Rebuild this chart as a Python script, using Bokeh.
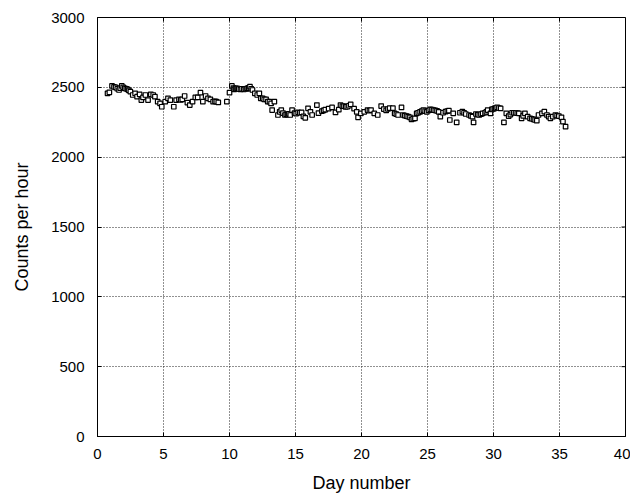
import math
from bokeh.plotting import figure
from bokeh.models import FixedTicker, Range1d
from bokeh.embed import file_html
from bokeh.resources import INLINE

days = [0.76, 0.9, 1.1, 1.25, 1.37, 1.5, 1.63, 1.72, 1.84, 1.95, 2.07, 2.18, 2.28, 2.38, 2.49,
        2.67, 2.85, 3.0, 3.19, 3.32, 3.45, 3.63, 3.83, 4.04, 4.22, 4.35, 4.56, 4.74, 4.87,
        5.13, 5.34, 5.52, 5.78, 5.96, 6.17, 6.3, 6.42, 6.6, 6.81, 6.99, 7.2, 7.41, 7.59, 7.8,
        7.98, 8.19, 8.37, 8.55, 8.76, 8.9, 9.0, 9.15,
        9.8, 10.0, 10.18, 10.3, 10.36, 10.45, 10.5, 10.57, 10.65, 10.7, 10.83, 10.95, 11.09, 11.2,
        11.28, 11.35, 11.45, 11.55, 11.65, 11.74, 11.92, 12.1, 12.26, 12.37, 12.51, 12.63, 12.77,
        12.9, 13.03, 13.15, 13.23, 13.4, 13.67, 13.8, 13.92, 14.05, 14.2, 14.3, 14.4, 14.5, 14.6,
        14.74, 14.93, 15.05, 15.2, 15.33, 15.46, 15.6, 15.74, 15.95, 16.13, 16.26, 16.62, 16.74,
        17.0, 17.13, 17.26, 17.51, 17.77, 18.03, 18.28, 18.41, 18.55, 18.67, 18.8, 18.92, 19.05,
        19.18, 19.44, 19.64, 19.74, 19.95, 20.21, 20.46, 20.6, 20.72, 20.97, 21.23, 21.49, 21.69,
        21.87, 22.0, 22.13, 22.38, 22.51, 22.64, 22.77, 23.03, 23.15, 23.28, 23.41, 23.54, 23.67,
        23.79, 23.92, 24.05, 24.18, 24.3, 24.44, 24.57, 24.69, 24.82, 24.95, 25.08, 25.21, 25.34,
        25.46, 25.59, 25.72, 25.85, 25.97, 26.18, 26.36, 26.5, 26.62, 26.69, 26.95, 27.21, 27.46,
        27.64, 27.77, 27.9, 28.15, 28.28, 28.41, 28.49, 28.67, 28.8, 28.92, 29.05, 29.18, 29.36,
        29.46, 29.56, 29.77, 29.87, 29.97, 30.08, 30.18, 30.28, 30.41, 30.54, 30.79, 30.97, 31.15,
        31.28, 31.41, 31.54, 31.67, 31.8, 31.92, 32.13, 32.25, 32.38, 32.59, 32.77, 32.9, 33.03,
        33.15, 33.28, 33.41, 33.67, 33.85, 34.05, 34.18, 34.31, 34.49, 34.69, 34.82, 34.95, 35.15,
        35.26, 35.46]

counts = [2457, 2464, 2510, 2503, 2500, 2490, 2481, 2495, 2510, 2500, 2493, 2490, 2486, 2478, 2469,
          2445, 2457, 2433, 2450, 2409, 2428, 2445, 2409, 2450, 2445, 2433, 2397, 2385, 2361,
          2397, 2421, 2409, 2361, 2409, 2414, 2410, 2414, 2438, 2390, 2373, 2397, 2428, 2428, 2462,
          2397, 2438, 2421, 2414, 2397, 2400, 2397, 2392,
          2397, 2462, 2510, 2495, 2486, 2492, 2490, 2493, 2490, 2488, 2486, 2490, 2486, 2490,
          2488, 2493, 2497, 2505, 2490, 2481, 2457, 2445, 2457, 2421, 2421, 2414, 2414,
          2397, 2397, 2385, 2337, 2397, 2302, 2325, 2337, 2316, 2302, 2306, 2305, 2310, 2302,
          2337, 2316, 2312, 2320, 2318, 2320, 2292, 2282, 2350, 2325, 2302, 2373, 2316,
          2330, 2335, 2340, 2347, 2356, 2320, 2340, 2373, 2365, 2366, 2360, 2361, 2368,
          2378, 2347, 2325, 2285, 2313, 2325, 2337, 2333, 2337, 2313, 2302, 2366, 2344,
          2335, 2345, 2351, 2351, 2313, 2308, 2302, 2356, 2302, 2298, 2294, 2290, 2285,
          2271, 2275, 2278, 2313, 2318, 2325, 2330, 2337, 2330, 2325, 2335, 2342, 2340,
          2337, 2335, 2332, 2325, 2290, 2318, 2326, 2330, 2333, 2266, 2314, 2249, 2318,
          2326, 2318, 2309, 2302, 2296, 2290, 2249, 2309, 2305, 2302, 2308, 2314, 2318,
          2325, 2337, 2314, 2342, 2345, 2349, 2352, 2357, 2352, 2349, 2249, 2314, 2294,
          2305, 2318, 2318, 2318, 2316, 2314, 2278, 2296, 2314, 2290, 2278, 2275, 2271,
          2266, 2261, 2302, 2314, 2326, 2302, 2290, 2278, 2290, 2302, 2298, 2294, 2285,
          2254, 2218]

x_ticks = [0, 5, 10, 15, 20, 25, 30, 35, 40]
y_ticks = [0, 500, 1000, 1500, 2000, 2500, 3000]

x_label = "Day number"
y_label = "Counts per hour"

FONT = "Liberation Sans"

p = figure(width=630, height=495, output_backend="svg", toolbar_location=None,
           x_range=Range1d(x_ticks[0], x_ticks[-1]), y_range=Range1d(y_ticks[0], y_ticks[-1]),
           min_border_left=97, min_border_right=5, min_border_top=17, min_border_bottom=59)

p.background_fill_color = "white"
p.border_fill_color = "white"
p.outline_line_color = "black"
p.outline_line_width = 1

p.xaxis.ticker = FixedTicker(ticks=x_ticks)
p.yaxis.ticker = FixedTicker(ticks=y_ticks)

for ax in (p.xaxis[0], p.yaxis[0]):
    ax.major_tick_in = 4
    ax.major_tick_out = 0
    ax.minor_tick_line_color = None
    ax.axis_line_color = "black"
    ax.major_tick_line_color = "black"
    ax.major_label_text_font = FONT
    ax.major_label_text_font_size = "15px"
    ax.major_label_text_color = "black"
    ax.axis_label_text_font = FONT
    ax.axis_label_text_font_size = "18px"
    ax.axis_label_text_font_style = "normal"
    ax.axis_label_text_color = "black"

p.xaxis.major_label_standoff = 12
p.yaxis.major_label_standoff = 13
p.xaxis.axis_label = x_label
p.yaxis.axis_label = y_label
p.xaxis.axis_label_standoff = 11
p.yaxis.axis_label_standoff = 16

p.xgrid.ticker = FixedTicker(ticks=x_ticks)
p.ygrid.ticker = FixedTicker(ticks=y_ticks)
for g in (p.xgrid[0], p.ygrid[0]):
    g.grid_line_color = "#222222"
    g.grid_line_dash = "1 2"
    g.grid_line_width = 1

# mirror ticks on the right and top edges
p.ray(x=[x_ticks[-1]] * len(y_ticks), y=y_ticks, length=4, length_units="screen",
      angle=math.pi, line_color="black", line_width=1)
p.ray(x=x_ticks, y=[y_ticks[-1]] * len(x_ticks), length=4, length_units="screen",
      angle=-math.pi / 2, line_color="black", line_width=1)

p.scatter(days, counts, marker="square", size=4.5, fill_color="white",
          line_color="black", line_width=1.2)

open("out.html", "w").write(file_html(p, INLINE))
